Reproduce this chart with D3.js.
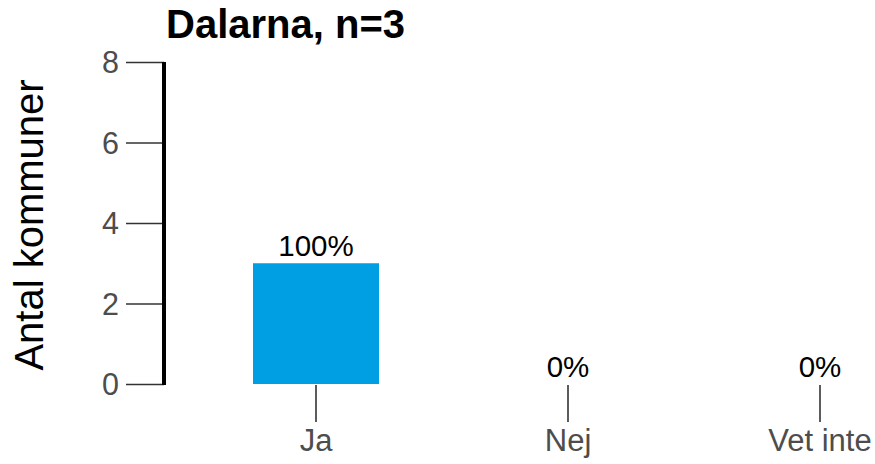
<!DOCTYPE html>
<html><head><meta charset="utf-8">
<script src="https://cdn.jsdelivr.net/npm/d3@7"></script>
<style>body{margin:0;background:#fff}text{font-family:"Liberation Sans",Arial,sans-serif}</style>
</head><body>
<svg id="c" width="875" height="464"></svg>
<script>
const title = "Dalarna, n=3";
const categories = ["Ja", "Nej", "Vet inte"];
const counts = [3, 0, 0];
const pctLabels = ["100%", "0%", "0%"];
const yTicks = [0, 2, 4, 6, 8];
const yLabel = "Antal kommuner";

const svg = d3.select("#c");
const x = d3.scaleBand().domain(categories).range([164, 972]).paddingInner(0.5).paddingOuter(0.3532);
const y = d3.scaleLinear().domain([0, 8]).range([384, 62]);

// bars
svg.selectAll("rect.bar").data(categories).join("rect")
  .attr("x", d => x(d)).attr("width", x.bandwidth())
  .attr("y", (d, i) => y(counts[i])).attr("height", (d, i) => y(0) - y(counts[i]))
  .attr("fill", "#009FE3");

// y axis
const ya = svg.append("g").attr("transform", "translate(164,0)")
  .call(d3.axisLeft(y).tickValues(yTicks).tickSize(38).tickPadding(7));
ya.select(".domain").remove();
ya.selectAll(".tick line").attr("stroke", "#333").attr("stroke-width", 1.6);
ya.selectAll(".tick text").attr("fill", "#4d4d4d").style("font-size", "30.5px").attr("dy", "0.36em");
svg.append("line").attr("x1", 164).attr("x2", 164).attr("y1", y(8)).attr("y2", y(0) + 1)
  .attr("stroke", "#000").attr("stroke-width", 4);

// x axis
const xa = svg.append("g").attr("transform", "translate(0,385)")
  .call(d3.axisBottom(x).tickSize(37).tickPadding(7));
xa.select(".domain").remove();
xa.selectAll(".tick line").attr("stroke", "#333").attr("stroke-width", 1.6);
xa.selectAll(".tick text").attr("fill", "#4d4d4d").style("font-size", "31px").attr("dy", "0.71em");

// value labels
svg.selectAll("text.val").data(categories).join("text").attr("class", "val")
  .attr("x", d => x(d) + x.bandwidth() / 2)
  .attr("y", (d, i) => y(counts[i]) - 7)
  .attr("text-anchor", "middle").attr("fill", "#000").style("font-size", "29.5px")
  .text((d, i) => pctLabels[i]);

// y label
svg.append("text").attr("transform", "translate(43,225) rotate(-90)")
  .attr("text-anchor", "middle").style("font-size", "40px").attr("fill", "#000").text(yLabel);

// title
svg.append("text").attr("x", 166).attr("y", 38).style("font-size", "40px").style("font-weight", "bold")
  .attr("fill", "#000").text(title);
</script>
</body></html>
